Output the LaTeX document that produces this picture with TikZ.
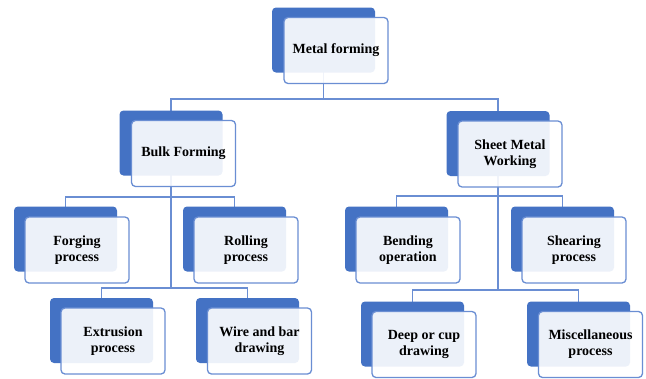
\documentclass[tikz,border=0pt]{standalone}
\usepackage{fontspec}
\setmainfont{Liberation Serif}
\usetikzlibrary{backgrounds}
\definecolor{darkblue}{HTML}{4472C4}
\definecolor{linecol}{HTML}{6A8ED3}
\tikzset{
  backbox/.style={draw=none, fill=darkblue, rounded corners=4pt, minimum width=103pt, minimum height=65pt, inner sep=0pt},
  frontbox/.style={draw=linecol, line width=1.3pt, fill=white, fill opacity=0.9, text opacity=1, draw opacity=1, rounded corners=4pt, minimum width=104pt, minimum height=66pt, inner sep=0pt, align=center, font=\fontsize{14}{16}\selectfont\bfseries},
  conn/.style={draw=linecol, line width=1.2pt}
}
\begin{document}
\begin{tikzpicture}[x=1pt,y=-1pt]
\useasboundingbox (0,0) rectangle (646,378);
% back boxes
\node[backbox] (mfb) at (323.5,40) {};
\node[backbox] (bulkb) at (171,143) {};
\node[backbox] (sheetb) at (498,143.5) {};
\node[backbox] (forgb) at (65.5,239) {};
\node[backbox] (rollb) at (234.5,239) {};
\node[backbox] (extb) at (101.5,330.5) {};
\node[backbox] (wireb) at (247.5,330.5) {};
\node[backbox] (bendb) at (396.5,239) {};
\node[backbox] (shearb) at (562.5,239) {};
\node[backbox] (deepb) at (412.5,334) {};
\node[backbox] (miscb) at (578.5,334) {};
% front boxes
\node[frontbox] (mf) at (336,50.5) {Metal forming};
\node[frontbox] (bulk) at (183.5,153.5) {Bulk Forming};
\node[frontbox] (sheet) at (510,154) {Sheet Metal\\Working};
\node[frontbox] (forg) at (77,250) {Forging\\process};
\node[frontbox] (roll) at (246,250) {Rolling\\process};
\node[frontbox] (ext) at (113,341) {Extrusion\\process};
\node[frontbox] (wire) at (259.5,341) {Wire and bar\\drawing};
\node[frontbox] (bend) at (408,250) {Bending\\operation};
\node[frontbox] (shear) at (574,250) {Shearing\\process};
\node[frontbox] (deep) at (424,344.5) {Deep or cup\\drawing};
\node[frontbox] (misc) at (590.5,344.5) {Miscellaneous\\process};
% junctions
\coordinate (top) at (323.5,99);
\coordinate (bj1) at (171,197);
\coordinate (bj2) at (171,288);
\coordinate (sj1) at (498,196);
\coordinate (sj2) at (498,290);
\begin{pgfonlayer}{background}
\fill[white] (0,0) rectangle (646,378);
\draw[conn] (mfb.center) -- (top);
\draw[conn] (bulkb.center) |- (top) -| (sheetb.center);
\draw[conn] (bulkb.center) -- (bj2);
\draw[conn] (forgb.center) |- (bj1) -| (rollb.center);
\draw[conn] (extb.center) |- (bj2) -| (wireb.center);
\draw[conn] (sheetb.center) -- (sj2);
\draw[conn] (bendb.center) |- (sj1) -| (shearb.center);
\draw[conn] (deepb.center) |- (sj2) -| (miscb.center);
\end{pgfonlayer}
\end{tikzpicture}
\end{document}
